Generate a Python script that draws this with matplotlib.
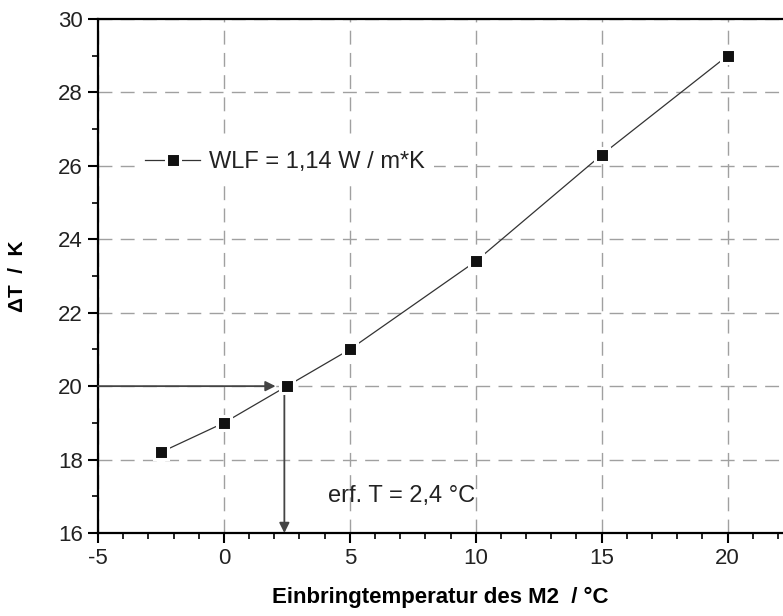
import matplotlib
matplotlib.use("Agg")
import matplotlib.pyplot as plt
from matplotlib.ticker import MultipleLocator

plt.rcParams['font.family'] = ['Liberation Sans', 'DejaVu Sans']
plt.rcParams['axes.unicode_minus'] = False

temps = [-2.5, 0, 2.5, 5, 10, 15, 20]
delta_t = [18.2, 19.0, 20.0, 21.0, 23.4, 26.3, 29.0]
series_label = "WLF = 1,14 W / m*K"
target_dt = 20.0
target_temp = 2.4
annot = "erf. T = 2,4 °C"
xlabel = "Einbringtemperatur des M2  / °C"
ylabel = "ΔT  /  K"

fig = plt.figure(figsize=(7.83, 6.16), dpi=100)
ax = fig.add_axes([98/783, 1-533/616, 1-98/783, (533-19)/616])

ax.set_xlim(-5, 22.2)
ax.set_ylim(16, 30)
ax.xaxis.set_major_locator(MultipleLocator(5))
ax.xaxis.set_minor_locator(MultipleLocator(1))
ax.yaxis.set_major_locator(MultipleLocator(2))
ax.yaxis.set_minor_locator(MultipleLocator(1))
ax.tick_params(which='major', direction='out', length=7, width=1.5, labelsize=16,
               colors='black', pad=4)
ax.tick_params(which='minor', direction='out', length=4, width=1.2)
ax.tick_params(top=False, right=False, which='both')
for lab in ax.get_xticklabels() + ax.get_yticklabels():
    lab.set_color('#222222')

ax.grid(True, which='major', color='#a0a0a0', linestyle=(0, (10, 6)), linewidth=1.0)
for s in ['left', 'bottom', 'top']:
    ax.spines[s].set_linewidth(1.6)
ax.spines['right'].set_visible(False)

ax.plot(temps, delta_t, color='#333333', linewidth=0.9, marker='s', markersize=9.5,
        markerfacecolor='#111111', markeredgecolor='white', markeredgewidth=2.2,
        label=series_label, zorder=5)

ax.annotate('', xy=(target_temp - 0.35, target_dt), xytext=(-5, target_dt),
            arrowprops=dict(arrowstyle='-|>', color='#444444', lw=1.3, mutation_scale=15,
                            shrinkA=0, shrinkB=0), zorder=4)
ax.annotate('', xy=(target_temp, 16), xytext=(target_temp, target_dt - 0.2),
            arrowprops=dict(arrowstyle='-|>', color='#444444', lw=1.3, mutation_scale=15,
                            shrinkA=0, shrinkB=0), zorder=4)
ax.text(4.15, 17.0, annot, fontsize=17, ha='left', va='center', color='#222222')

leg = ax.legend(loc='center left', bbox_to_anchor=(-3.49, 26.11), bbox_transform=ax.transData,
                fontsize=17, frameon=True, handlelength=2.3, handletextpad=0.4,
                borderpad=0.4, borderaxespad=0, fancybox=False)
leg.get_frame().set_facecolor('white')
leg.get_frame().set_edgecolor('none')
leg.get_frame().set_alpha(1)
for t in leg.get_texts():
    t.set_color('#222222')

ax.set_xlabel(xlabel, fontsize=16, fontweight='bold', labelpad=13)
ax.set_ylabel(ylabel, fontsize=15, fontweight='bold', labelpad=22)

fig.savefig('out.png', dpi=100)
